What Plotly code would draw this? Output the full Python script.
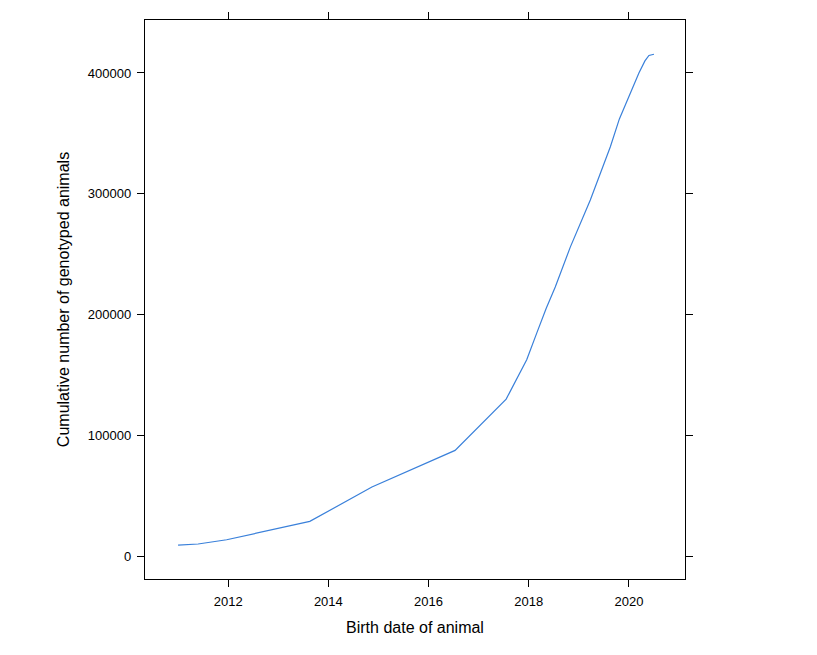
import plotly.graph_objects as go

birth_year = [2011.0, 2011.4, 2011.97, 2013.63, 2014.87, 2016.53, 2017.55, 2017.96,
              2018.16, 2018.35, 2018.53, 2018.83, 2019.23, 2019.63, 2019.81, 2020.03,
              2020.2, 2020.32, 2020.4, 2020.5]
cum_animals = [9500, 10500, 14000, 29200, 57600, 87900, 130300, 162800,
               184900, 205500, 223000, 256000, 295000, 339000, 362000, 384000,
               400000, 410000, 414500, 415500]

x_ticks = [2012, 2014, 2016, 2018, 2020]
y_ticks = [0, 100000, 200000, 300000, 400000]

fig = go.Figure()
fig.add_trace(go.Scatter(x=birth_year, y=cum_animals, mode="lines",
                         line=dict(color="#3a80da", width=1.2), showlegend=False))

axis_common = dict(showline=True, linecolor="black", linewidth=1.3, mirror="ticks",
                   ticks="outside", ticklen=7, tickwidth=1, tickcolor="black",
                   showgrid=False, zeroline=False, ticklabelstandoff=3,
                   tickfont=dict(family="Liberation Sans, Arial", size=13, color="black"))

fig.update_layout(
    width=809, height=647,
    margin=dict(l=137, r=132, t=12, b=76, autoexpand=False),
    plot_bgcolor="white", paper_bgcolor="white",
    xaxis=dict(range=[2010.34, 2021.12], tickvals=x_ticks, ticktext=[str(v) for v in x_ticks],
               title=dict(text="Birth date of animal", standoff=14,
                          font=dict(family="Liberation Sans, Arial", size=16, color="black")),
               **axis_common),
    yaxis=dict(range=[-18430, 443800], tickvals=y_ticks, ticktext=[str(v) for v in y_ticks],
               title=dict(text="Cumulative number of genotyped animals", standoff=14,
                          font=dict(family="Liberation Sans, Arial", size=16, color="black")),
               **axis_common),
)

fig.write_html("out.html")
